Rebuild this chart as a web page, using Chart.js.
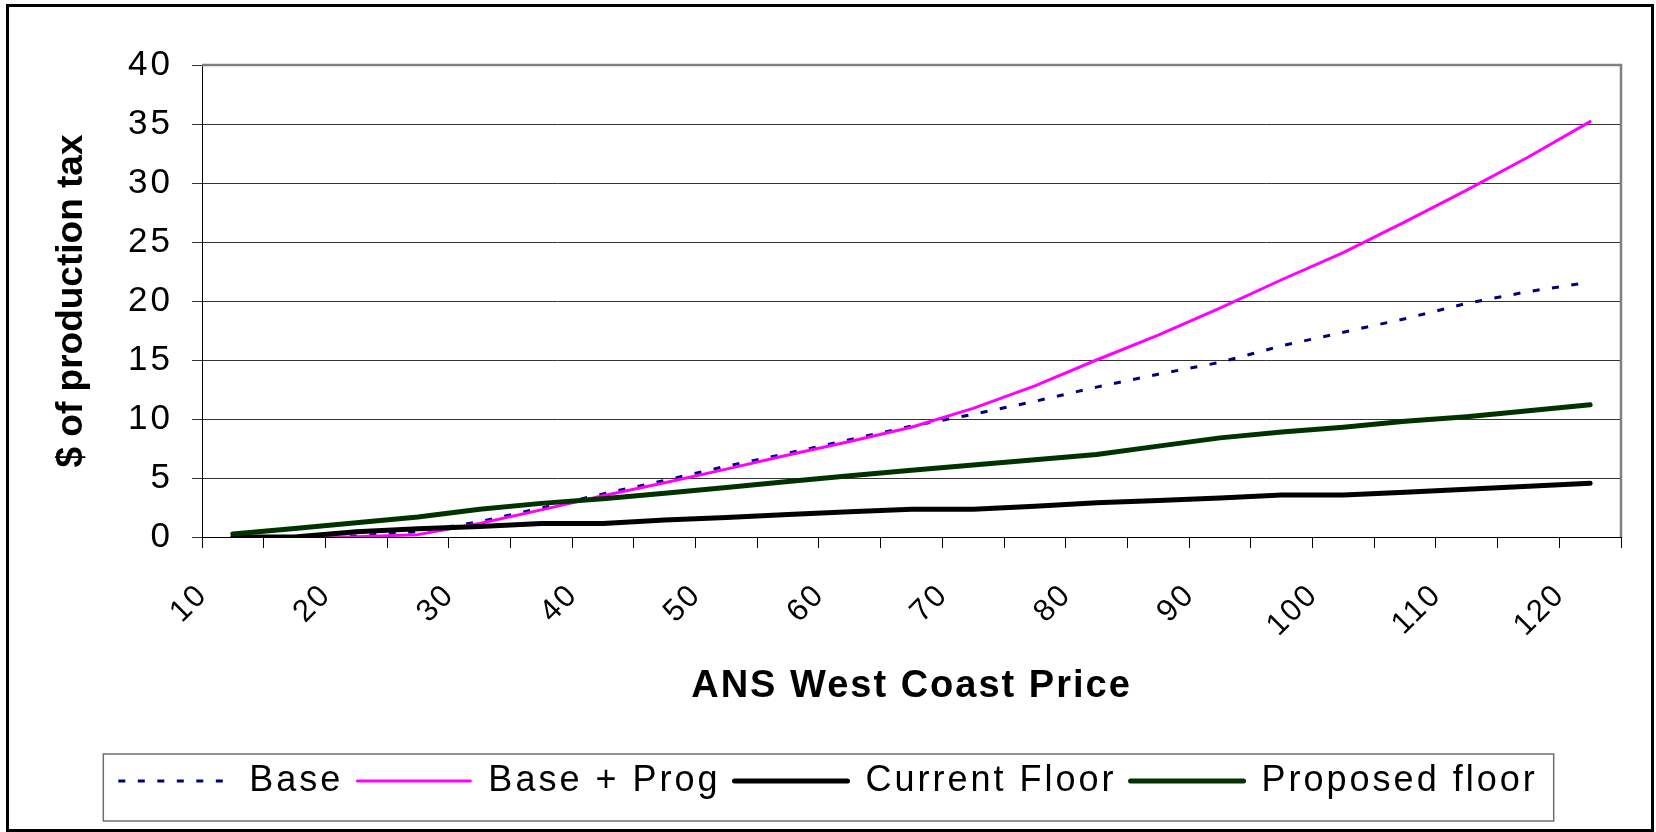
<!DOCTYPE html>
<html><head><meta charset="utf-8">
<script src="https://cdn.jsdelivr.net/npm/chart.js@4.4.1/dist/chart.umd.min.js"></script>
<style>html,body{margin:0;padding:0;background:#fff}canvas{display:block}</style>
</head><body>
<canvas id="c" width="1656" height="832"></canvas>
<script>
// ---- data ----
const categories = ['10','15','20','25','30','35','40','45','50','55','60','65','70','75','80','85','90','95','100','105','110','115','120'];
const shownTickLabels = ['10','20','30','40','50','60','70','80','90','100','110','120'];
const baseValues     = [0, 0, 0.1, 0.45, 1.3, 2.45, 3.65, 4.8, 6.0, 7.1, 8.25, 9.4, 10.4, 11.5, 12.7, 13.8, 14.8, 16.2, 17.35, 18.5, 19.8, 20.8, 21.6];
const baseProgValues = [0, 0, 0.02, 0.2, 1.15, 2.3, 3.5, 4.6, 5.75, 6.95, 8.1, 9.3, 10.9, 12.8, 15.0, 17.1, 19.4, 21.8, 24.1, 26.7, 29.4, 32.2, 35.2];
const currentFloor   = [0, 0, 0.45, 0.7, 0.9, 1.15, 1.15, 1.45, 1.65, 1.9, 2.15, 2.35, 2.35, 2.6, 2.9, 3.1, 3.3, 3.55, 3.55, 3.8, 4.05, 4.3, 4.55];
const proposedFloor  = [0.25, 0.73, 1.2, 1.7, 2.35, 2.85, 3.25, 3.7, 4.2, 4.7, 5.2, 5.65, 6.1, 6.55, 7.0, 7.7, 8.4, 8.9, 9.3, 9.8, 10.2, 10.7, 11.2];
const seriesNames = ['Base', 'Base + Prog', 'Current Floor', 'Proposed floor'];
const yTitle = '$ of production tax';
const xTitle = 'ANS West Coast Price';

const FONT = "'Liberation Sans', Arial, sans-serif";
Chart.defaults.font.family = FONT;
Chart.defaults.color = '#000';

// letter spacing per font size (Excel-like spaced text)
const spacingBySize = { 35: 3, 31: 2, 36: 3, 38: 2, 37: 0 };
const canvas = document.getElementById('c');
const ctx2d = canvas.getContext('2d');
const fontDesc = Object.getOwnPropertyDescriptor(CanvasRenderingContext2D.prototype, 'font');
Object.defineProperty(ctx2d, 'font', {
  configurable: true,
  get() { return fontDesc.get.call(this); },
  set(v) {
    fontDesc.set.call(this, v);
    const m = /(\d+(?:\.\d+)?)px/.exec(v);
    const s = m ? parseFloat(m[1]) : 0;
    try { this.letterSpacing = (spacingBySize[s] || 0) + 'px'; } catch (e) {}
  }
});

const decor = {
  id: 'decor',
  beforeDraw(chart) {
    const c = chart.ctx;
    c.save(); c.fillStyle = '#fff'; c.fillRect(0, 0, chart.width, chart.height); c.restore();
  },
  beforeDatasetsDraw(chart) {
    const {ctx, chartArea: a} = chart;
    ctx.save();
    ctx.strokeStyle = '#808080'; ctx.lineWidth = 2.5;
    ctx.beginPath();
    ctx.moveTo(a.left, a.top); ctx.lineTo(a.right, a.top); ctx.lineTo(a.right, a.bottom);
    ctx.stroke();
    ctx.restore();
  },
  afterDraw(chart) {
    const ctx = chart.ctx;
    const hb = chart.legend.legendHitBoxes;
    ctx.save();
    if (hb && hb.length) {
      const last = hb[hb.length - 1];
      const L = hb[0].left - 15, R = last.left + last.width + 16;
      const T = hb[0].top - 9, B = hb[0].top + hb[0].height + 22;
      ctx.strokeStyle = '#707070'; ctx.lineWidth = 1.5;
      ctx.strokeRect(L, T, R - L, B - T);
    }
    ctx.strokeStyle = '#000'; ctx.lineWidth = 3;
    ctx.strokeRect(7.5, 5.5, 1645, 825);
    ctx.restore();
  }
};

new Chart(canvas, {
  type: 'line',
  data: {
    labels: categories,
    datasets: [
      { label: seriesNames[0], data: baseValues, borderColor: '#000080', backgroundColor: '#000080', borderWidth: 3, borderDash: [7, 12.5], borderCapStyle: 'butt', order: 4 },
      { label: seriesNames[1], data: baseProgValues, borderColor: '#FF00FF', backgroundColor: '#FF00FF', borderWidth: 3, borderCapStyle: 'round', order: 3 },
      { label: seriesNames[2], data: currentFloor, borderColor: '#000000', backgroundColor: '#000000', borderWidth: 5, borderCapStyle: 'round', order: 2 },
      { label: seriesNames[3], data: proposedFloor, borderColor: '#003300', backgroundColor: '#003300', borderWidth: 5, borderCapStyle: 'round', order: 1 }
    ]
  },
  options: {
    responsive: false,
    animation: false,
    devicePixelRatio: 1,
    layout: { padding: { top: 65, left: 10, right: 10, bottom: 23 } },
    elements: { point: { radius: 0, hoverRadius: 0 }, line: { tension: 0, borderJoinStyle: 'round', fill: false } },
    plugins: {
      legend: {
        position: 'bottom',
        labels: {
          usePointStyle: true, pointStyle: 'line', pointStyleWidth: 113,
          font: { size: 36 }, padding: 14, color: '#000',
          sort: (a, b) => a.datasetIndex - b.datasetIndex,
          generateLabels(chart) {
            const items = Chart.defaults.plugins.legend.labels.generateLabels(chart);
            items.forEach(it => {
              const ds = chart.data.datasets[it.datasetIndex];
              it.lineDash = ds.borderDash || [];
              it.lineWidth = ds.borderWidth;
              it.strokeStyle = ds.borderColor;
              it.lineCap = ds.borderCapStyle;
              it.pointStyle = 'line';
            });
            return items;
          }
        }
      },
      tooltip: { enabled: false }
    },
    scales: {
      x: {
        type: 'category', offset: true,
        grid: { display: true, offset: true, drawOnChartArea: false, drawTicks: true, tickLength: 11, color: '#000' },
        border: { display: true, color: '#000', width: 1 },
        ticks: {
          autoSkip: false, minRotation: 45, maxRotation: 45, padding: 29, labelOffset: -30,
          font: { size: 31 }, color: '#000',
          callback: function (v, i) { const lab = categories[i]; return shownTickLabels.includes(lab) ? lab : ''; }
        },
        title: { display: true, text: xTitle, font: { size: 38, weight: 'bold' }, color: '#000', padding: { top: 0, bottom: 40 } },
        afterFit(s) { s.height = 212; }
      },
      y: {
        min: 0, max: 40,
        grid: { color: '#333', lineWidth: 1, tickLength: 10 },
        border: { display: true, color: '#000', width: 1 },
        ticks: { stepSize: 5, font: { size: 35 }, color: '#000', padding: 19 },
        title: { display: true, text: yTitle, font: { size: 37, weight: 'bold' }, color: '#000', padding: { top: 40, bottom: 0 } },
        afterFit(s) { s.width = 192; }
      },
      yR: {
        type: 'linear', position: 'right', display: true,
        grid: { display: false, drawTicks: false }, border: { display: false }, ticks: { display: false },
        afterFit(s) { s.width = 25; }
      }
    }
  },
  plugins: [decor]
});
</script>
</body></html>
